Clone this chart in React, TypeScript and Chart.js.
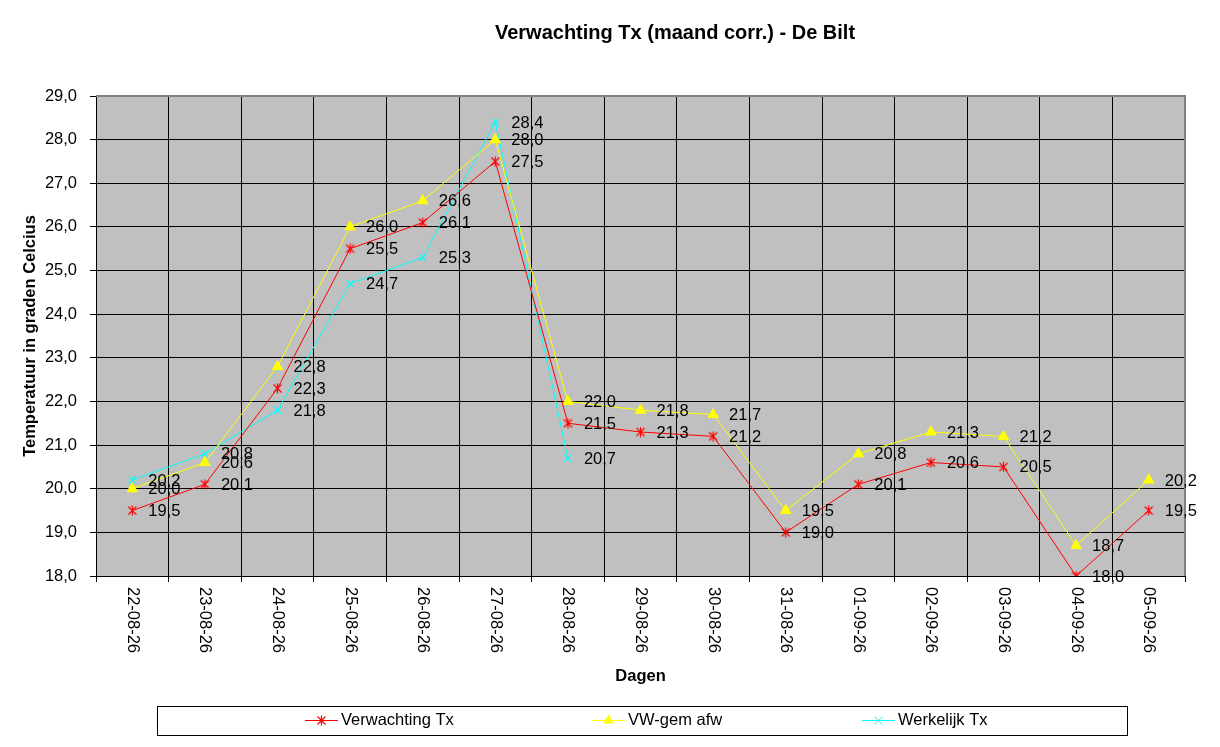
import { useEffect, useRef } from 'react';
import { Chart, registerables } from 'chart.js';

Chart.register(...registerables);

const dates = [
  '22-08-26', '23-08-26', '24-08-26', '25-08-26', '26-08-26', '27-08-26', '28-08-26',
  '29-08-26', '30-08-26', '31-08-26', '01-09-26', '02-09-26', '03-09-26', '04-09-26', '05-09-26',
];
const verwachtingTx = [19.5, 20.1, 22.3, 25.5, 26.1, 27.5, 21.5, 21.3, 21.2, 19.0, 20.1, 20.6, 20.5, 18.0, 19.5];
const vwGemAfw = [20.0, 20.6, 22.8, 26.0, 26.6, 28.0, 22.0, 21.8, 21.7, 19.5, 20.8, 21.3, 21.2, 18.7, 20.2];
const werkelijkTx = [20.2, 20.8, 21.8, 24.7, 25.3, 28.4, 20.7, null, null, null, null, null, null, null, null];

const FONT = '"Liberation Sans", Arial, sans-serif';
const fmt = (v: number) => v.toFixed(1).replace('.', ',');

// asterisk marker like the Excel one (X plus vertical bar)
function makeAsterisk(color: string) {
  const c = document.createElement('canvas');
  c.width = 11;
  c.height = 11;
  const g = c.getContext('2d')!;
  g.strokeStyle = color;
  g.lineWidth = 1.2;
  g.beginPath();
  g.moveTo(1.5, 1.5); g.lineTo(9.5, 9.5);
  g.moveTo(9.5, 1.5); g.lineTo(1.5, 9.5);
  g.moveTo(5.5, 0.5); g.lineTo(5.5, 10.5);
  g.stroke();
  return c;
}

export default function App() {
  const chartRef = useRef<HTMLCanvasElement>(null);
  const chartInstance = useRef<Chart | null>(null);

  useEffect(() => {
    if (!chartRef.current) return;
    if (chartInstance.current) chartInstance.current.destroy();
    const ctx = chartRef.current.getContext('2d');
    if (!ctx) return;

    const asterisk = makeAsterisk('#FF0000');

    const excelLook = {
      id: 'excelLook',
      beforeDraw(chart: any) {
        const { ctx, chartArea: a } = chart;
        ctx.save();
        ctx.fillStyle = '#FFFFFF';
        ctx.fillRect(0, 0, chart.width, chart.height);
        ctx.fillStyle = '#C0C0C0';
        ctx.fillRect(a.left, a.top, a.right - a.left, a.bottom - a.top);
        ctx.restore();
      },
      beforeDatasetsDraw(chart: any) {
        const { ctx, chartArea: a } = chart;
        ctx.save();
        ctx.strokeStyle = '#808080';
        ctx.lineWidth = 2;
        ctx.beginPath();
        ctx.moveTo(a.left, a.top);
        ctx.lineTo(a.right, a.top);
        ctx.lineTo(a.right, a.bottom);
        ctx.stroke();
        ctx.restore();
      },
      afterDatasetsDraw(chart: any) {
        const { ctx } = chart;
        ctx.save();
        ctx.fillStyle = '#000000';
        ctx.font = `16.5px ${FONT}`;
        ctx.textAlign = 'left';
        ctx.textBaseline = 'middle';
        chart.data.datasets.forEach((ds: any, di: number) => {
          const meta = chart.getDatasetMeta(di);
          meta.data.forEach((pt: any, i: number) => {
            const v = ds.data[i];
            if (v === null || v === undefined) return;
            ctx.fillText(fmt(v), pt.x + 16, pt.y + 1);
          });
        });
        ctx.restore();
      },
      afterDraw(chart: any) {
        const { ctx, chartArea: a } = chart;
        const xScale = chart.scales.x;
        ctx.save();
        ctx.fillStyle = '#000000';

        // rotated category labels (reading top to bottom)
        ctx.font = `16.5px ${FONT}`;
        ctx.textAlign = 'left';
        ctx.textBaseline = 'middle';
        dates.forEach((d, i) => {
          const x = xScale.getPixelForValue(i);
          ctx.save();
          ctx.translate(x, a.bottom + 11);
          ctx.rotate(Math.PI / 2);
          ctx.fillText(d, 0, 0);
          ctx.restore();
        });

        // title
        ctx.textAlign = 'center';
        ctx.font = `bold 20px ${FONT}`;
        ctx.fillText('Verwachting Tx (maand corr.) - De Bilt', 675, 33);

        // axis titles
        ctx.font = `bold 16.5px ${FONT}`;
        ctx.fillText('Dagen', (a.left + a.right) / 2, 676);
        ctx.save();
        ctx.translate(30, (a.top + a.bottom) / 2);
        ctx.rotate(-Math.PI / 2);
        ctx.fillText('Temperatuur in graden Celcius', 0, 0);
        ctx.restore();

        // legend box
        ctx.strokeStyle = '#000000';
        ctx.lineWidth = 1;
        ctx.strokeRect(157.5, 706.5, 970, 29);
        const ly = 720.5;
        const starts = [305, 592, 862];
        chart.data.datasets.forEach((ds: any, di: number) => {
          const x0 = starts[di];
          ctx.strokeStyle = ds.borderColor;
          ctx.lineWidth = 1;
          ctx.beginPath();
          ctx.moveTo(x0, ly);
          ctx.lineTo(x0 + 33, ly);
          ctx.stroke();
          const cx = x0 + 16.5;
          if (di === 0) {
            ctx.drawImage(asterisk, cx - 5.5, ly - 5.5);
          } else if (di === 1) {
            ctx.fillStyle = ds.pointBackgroundColor;
            ctx.beginPath();
            ctx.moveTo(cx, ly - 6);
            ctx.lineTo(cx + 5.2, ly + 3);
            ctx.lineTo(cx - 5.2, ly + 3);
            ctx.closePath();
            ctx.fill();
          } else {
            ctx.beginPath();
            ctx.moveTo(cx - 4, ly - 4); ctx.lineTo(cx + 4, ly + 4);
            ctx.moveTo(cx + 4, ly - 4); ctx.lineTo(cx - 4, ly + 4);
            ctx.stroke();
          }
          ctx.fillStyle = '#000000';
          ctx.font = `16.5px ${FONT}`;
          ctx.textAlign = 'left';
          ctx.textBaseline = 'middle';
          ctx.fillText(ds.label, x0 + 36, ly);
        });
        ctx.restore();
      },
    };

    chartInstance.current = new Chart(ctx, {
      type: 'line',
      data: {
        labels: dates,
        datasets: [
          {
            label: 'Verwachting Tx',
            data: verwachtingTx,
            borderColor: '#FF0000',
            backgroundColor: '#FF0000',
            borderWidth: 1,
            pointStyle: asterisk as any,
            pointRadius: 5,
            tension: 0,
          },
          {
            label: 'VW-gem afw',
            data: vwGemAfw,
            borderColor: '#FFFF00',
            backgroundColor: '#FFFF00',
            pointBackgroundColor: '#FFFF00',
            pointBorderColor: '#FFFF00',
            borderWidth: 1,
            pointStyle: 'triangle',
            pointRadius: 6,
            tension: 0,
          },
          {
            label: 'Werkelijk Tx',
            data: werkelijkTx,
            borderColor: '#00FFFF',
            backgroundColor: '#00FFFF',
            pointBorderColor: '#00FFFF',
            borderWidth: 1,
            pointBorderWidth: 1.2,
            pointStyle: 'crossRot',
            pointRadius: 5,
            tension: 0,
            spanGaps: false,
          },
        ],
      },
      options: {
        responsive: false,
        animation: false,
        layout: { padding: { left: 0, right: 35, top: 96, bottom: 165 } },
        plugins: {
          legend: { display: false },
          title: { display: false },
          tooltip: { enabled: false },
        },
        scales: {
          x: {
            offset: true,
            grid: { offset: true, color: '#000000', lineWidth: 1, tickLength: 6, drawTicks: true },
            border: { color: '#000000', width: 1 },
            ticks: { display: false },
            afterFit: (s: any) => { s.height = 6; },
          },
          y: {
            min: 18,
            max: 29,
            grid: { color: '#000000', lineWidth: 1, tickLength: 6, drawTicks: true },
            border: { color: '#000000', width: 1 },
            ticks: {
              stepSize: 1,
              color: '#000000',
              padding: 13,
              font: { family: FONT, size: 16.5 },
              callback: (v: any) => fmt(Number(v)),
            },
            afterFit: (s: any) => { s.width = 96; },
          },
        },
      },
      plugins: [excelLook],
    });

    return () => {
      if (chartInstance.current) {
        chartInstance.current.destroy();
        chartInstance.current = null;
      }
    };
  }, []);

  return (
    <div style={{ position: 'absolute', left: 0, top: 0, width: 1220, height: 747 }}>
      <canvas ref={chartRef} width={1220} height={747} style={{ width: 1220, height: 747 }} />
    </div>
  );
}
